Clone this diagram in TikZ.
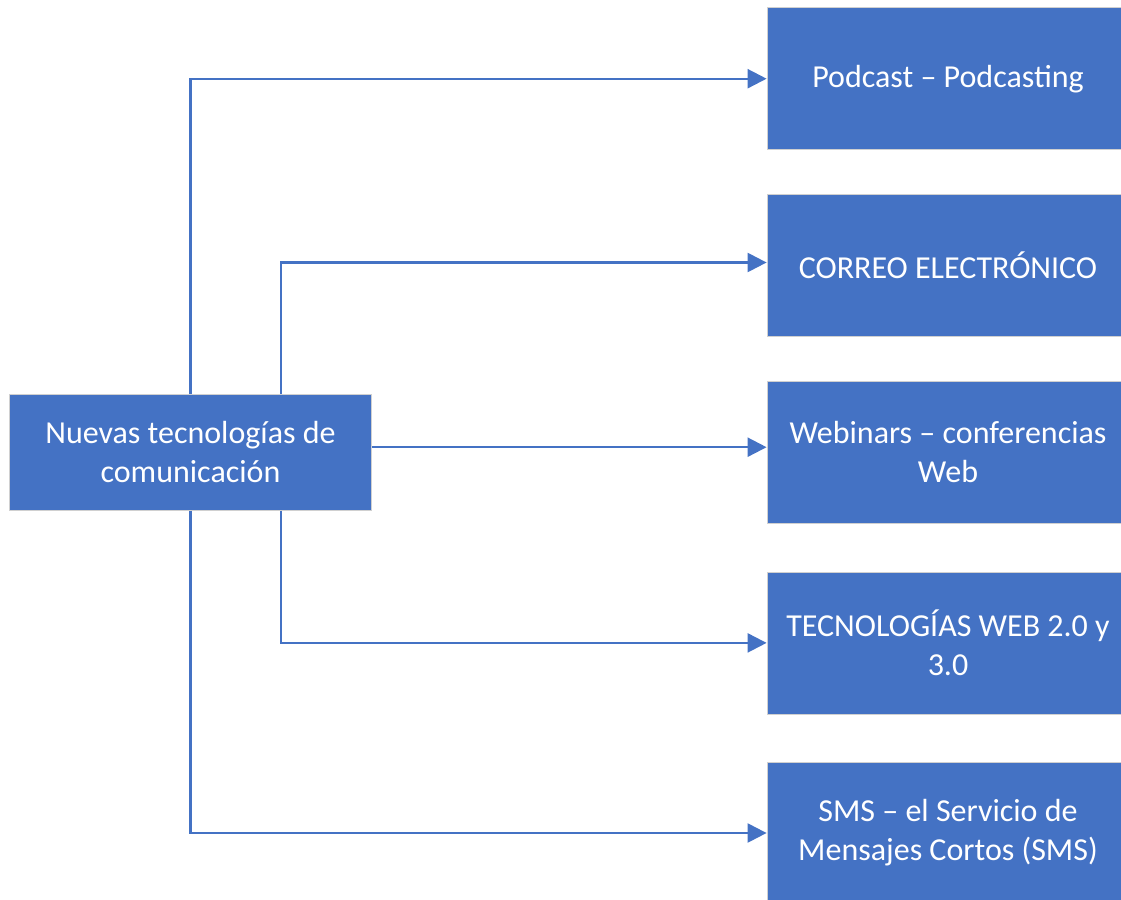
\documentclass[tikz,border=0pt]{standalone}
\usepackage{fontspec}
\setmainfont{Carlito}
\usetikzlibrary{arrows.meta}
\definecolor{boxblue}{HTML}{4472C4}
\definecolor{edgegray}{HTML}{D0D0D0}
\begin{document}
\begin{tikzpicture}[x=1pt,y=-1pt,
  box/.style={fill=boxblue,draw=edgegray,line width=0.8pt,minimum width=362pt,minimum height=142pt,
    inner sep=0pt,text=white,align=center,font=\fontsize{32}{39}\selectfont},
  arr/.style={draw=boxblue,line width=2.3pt,-{Triangle[length=19pt,width=19pt]}},
  conn/.style={draw=boxblue,line width=2.3pt}]
\useasboundingbox (0,0) rectangle (1121,899);
\clip (0,0) rectangle (1121,899);
\node[box,minimum height=116pt] (L) at (190.5,452.2) {Nuevas tecnologías de\\comunicación};
\node[box] (b1) at (948,78.7) {Podcast – Podcasting};
\node[box] (b2) at (948,265.5) {CORREO ELECTRÓNICO};
\node[box] (b3) at (948,452.2) {Webinars – conferencias\\Web};
\node[box] (b4) at (948,642.9) {TECNOLOGÍAS WEB 2.0 y\\3.0};
\node[box] (b5) at (948,833) {SMS – el Servicio de\\Mensajes Cortos (SMS)};
\coordinate (xa) at (190.5,0);
\coordinate (xb) at (281,0);
\draw[arr] (xa |- L.north) |- (b1.west);
\draw[arr] (xb |- L.north) |- ([yshift=3pt]b2.west);
\draw[arr] ([yshift=5pt]L.east) -- ([yshift=5pt]b3.west);
\draw[arr] (xb |- L.south) |- (b4.west);
\draw[arr] (xa |- L.south) |- (b5.west);
\end{tikzpicture}
\end{document}
